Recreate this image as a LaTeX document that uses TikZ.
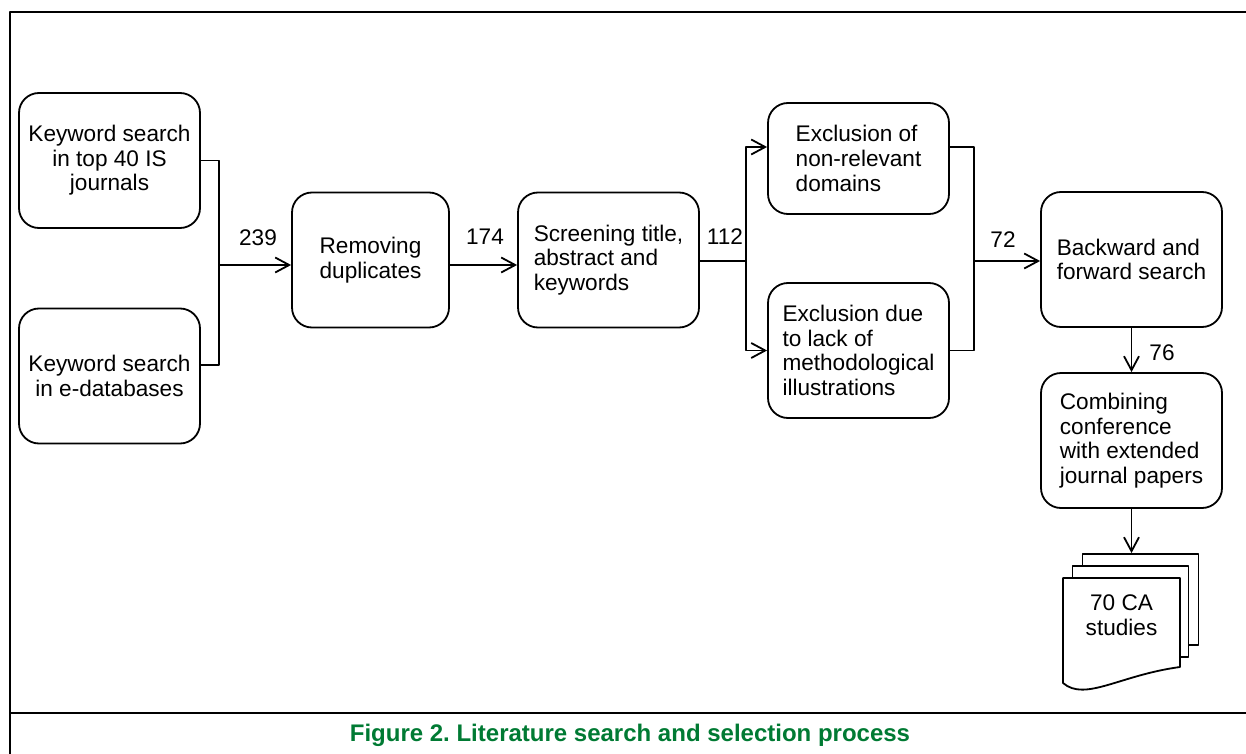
\documentclass[tikz,border=0pt]{standalone}
\usepackage{fontspec}
\setmainfont{Liberation Sans}
\usetikzlibrary{arrows.meta}
\definecolor{capgreen}{RGB}{0,122,51}
\frenchspacing

\begin{document}
\begin{tikzpicture}[x=0.5pt, y=-0.5pt, line join=round, line width=0.9pt,
  font=\fontsize{11.3}{12.3}\selectfont, >={Straight Barb[length=7pt,width=7.5pt]},
  box/.style={draw, rounded corners=10pt, inner sep=0pt, minimum width=90.5pt, minimum height=67.5pt, align=center},
  lbox/.style={box, align=left},
  page/.style={draw, fill=white, inner sep=0pt, minimum width=58pt, minimum height=45.5pt}]
\useasboundingbox (0,0) rectangle (1246,754);
% frame and caption
\draw[line width=1.2pt] (1246,12) -- (10,12) -- (10,754);
\draw[line width=1.2pt] (10,713) -- (1246,713);
\node[font=\fontsize{12}{14}\selectfont\bfseries, text=capgreen] (cap) at (630,735) {Figure 2. Literature search and selection process};
% boxes
\node[box] (kwj) at (109.5,160.5) {Keyword search\\in top 40 IS\\journals};
\node[box] (kwd) at (109.5,376) {Keyword search\\in e-databases};
\node[box] (dup) at (370.5,260) [minimum width=78.5pt] {Removing\\duplicates};
\node[lbox] (scr) at (608.5,260) {Screening title,\\abstract and\\keywords};
\node[lbox] (exd) at (858.5,158.5) [minimum height=55.5pt] {Exclusion of\\non-relevant\\domains};
\node[lbox] (exm) at (858.5,350.5) {Exclusion due\\to lack of\\methodological\\illustrations};
\node[lbox] (bwd) at (1131.5,259.5) {Backward and\\forward search};
\node[lbox] (cmb) at (1131.5,440.5) {Combining\\conference\\with extended\\journal papers};
% stack of documents
\node[page] (pg3) at (1140.5,599.5) {};
\node[page] (pg2) at (1130.5,611.5) {};
\draw[fill=white] (1063,578) -- (1180,578) -- (1180,667)
  .. controls (1120,675) and (1085,702) .. (1063,683) -- cycle;
\node[align=center] (docs) at (1121.5,615) {70 CA\\studies};
% connectors
\coordinate (j1) at (219,265);
\coordinate (j2) at (746,261);
\coordinate (j3) at (974,261);
\draw (kwj.east) -| (j1);
\draw ([yshift=5.5pt]kwd.east) -| (j1);
\draw[->] (j1) -- (j1 -| dup.west);
\draw[->] ([yshift=-2.5pt]dup.east) -- ([yshift=-2.5pt]scr.west);
\draw (scr.east |- j2) -- (j2);
\draw[->] (j2) |- ([yshift=5.75pt]exd.west);
\draw[->] (j2) |- (exm.west);
\draw ([yshift=5.75pt]exd.east) -| (j3);
\draw (exm.east) -| (j3);
\draw[->] (j3) -- (j3 -| bwd.west);
\draw[->] (bwd) -- (cmb);
\draw[->] (cmb) -- (cmb.south |- pg3.north);
% counts
\node (n239) at (258,238) {239};
\node (n174) at (485,237) {174};
\node (n112) at (725,237) {112};
\node (n72) at (1003,240) {72};
\node (n76) at (1162,353) {76};
\end{tikzpicture}
\end{document}
